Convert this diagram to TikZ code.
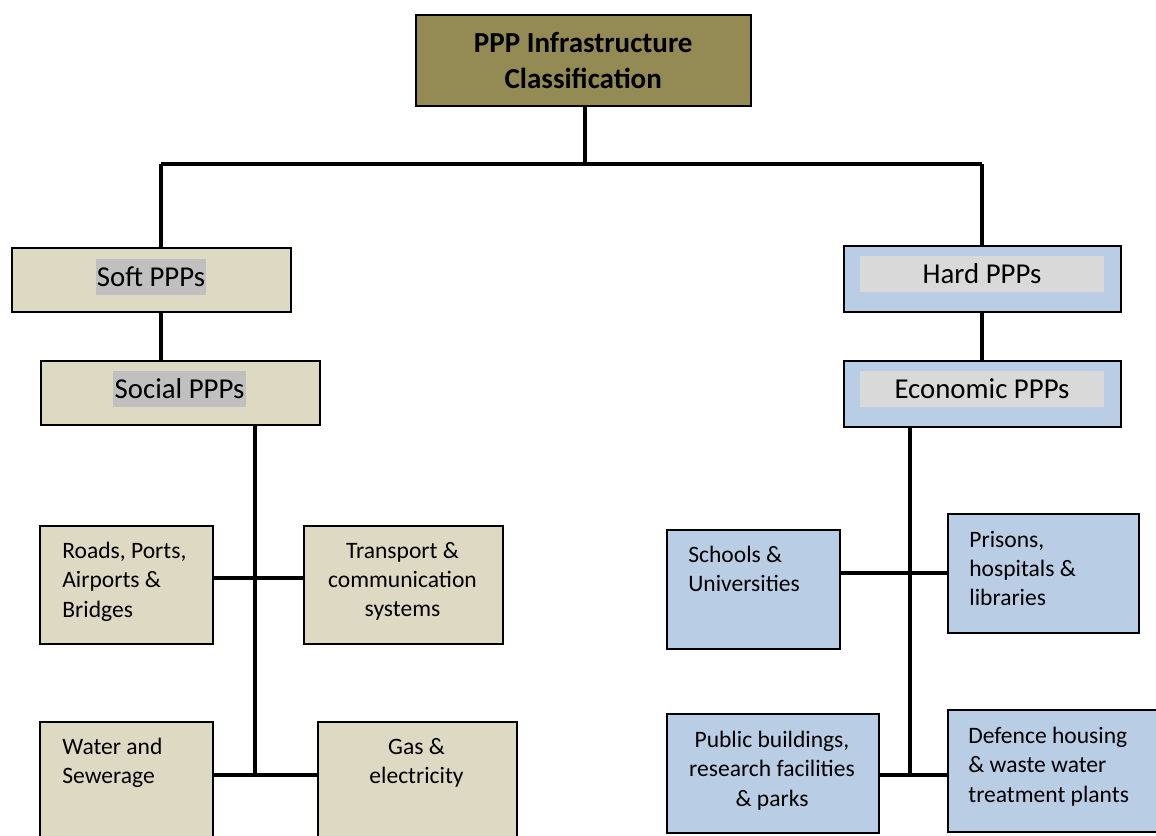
\documentclass[tikz,border=0pt]{standalone}
\usepackage{fontspec}
\setmainfont{Carlito}
\definecolor{olivebox}{HTML}{948A54}
\definecolor{tanbox}{HTML}{DDD9C3}
\definecolor{bluebox}{HTML}{B9CDE5}
\definecolor{hilite}{HTML}{C0C0C0}
\definecolor{innergray}{HTML}{D9D9D9}
\begin{document}
\begin{tikzpicture}[x=0.02cm, y=-0.02cm,
		box/.style = {draw, line width=0.9pt, anchor=north west, inner sep=0pt},
		softbox/.style = {box, fill=tanbox},
		hardbox/.style = {box, fill=bluebox},
		link/.style = {line width=1.8pt},
		smalltext/.style = {inner sep=0pt, font=\fontsize{13.4}{16.6}\selectfont},
		headtext/.style = {inner sep=0pt, minimum height=0.72cm, font=\fontsize{16.4}{19}\selectfont}]
		\useasboundingbox (0,0) rectangle (1156,835);
		\clip (0,0) rectangle (1156,835);
		\node[box, fill=olivebox, minimum width=6.7cm, minimum height=1.82cm, align=center, font=\bfseries\fontsize{16.5}{20.4}\selectfont] (top) at (415,14) {PPP Infrastructure\\Classification};
		\node[softbox, minimum width=5.58cm, minimum height=1.28cm] (soft) at (11,247) {};
		\node[softbox, minimum width=5.58cm, minimum height=1.28cm] (social) at (40,360) {};
		\node[headtext, fill=hilite, minimum width=2.2cm] (softtext) at (151,277) {Soft PPPs};
		\node[headtext, fill=hilite, minimum width=2.66cm] (socialtext) at (179.5,389) {Social PPPs};
		\node[hardbox, minimum width=5.54cm, minimum height=1.32cm] (hard) at (843,245) {};
		\node[hardbox, minimum width=5.54cm, minimum height=1.32cm] (economic) at (843,360) {};
		\node[headtext, fill=innergray, minimum width=4.88cm] (hardtext) at (982,274) {Hard PPPs};
		\node[headtext, fill=innergray, minimum width=4.88cm] (economictext) at (982,389) {Economic PPPs};
		\node[softbox, minimum width=3.46cm, minimum height=2.36cm] (roads) at (39,525) {};
		\node[softbox, minimum width=3.98cm, minimum height=2.36cm] (transport) at (303,525) {};
		\node[softbox, minimum width=3.46cm, minimum height=2.5cm] (water) at (39,721) {};
		\node[softbox, minimum width=3.98cm, minimum height=2.5cm] (gas) at (317,721) {};
		\node[hardbox, minimum width=3.46cm, minimum height=2.38cm] (schools) at (666,529) {};
		\node[hardbox, minimum width=3.82cm, minimum height=2.38cm] (prisons) at (947,513) {};
		\node[hardbox, minimum width=4.24cm, minimum height=2.38cm] (public) at (666,713) {};
		\node[hardbox, minimum width=4.6cm, minimum height=2.44cm] (defence) at (947,709) {};
		\node[smalltext, anchor=north west, align=left] (roadstext) at (62,542) {Roads, Ports,\\Airports \&\\Bridges};
		\node[smalltext, anchor=north, align=center] (transporttext) at (402.5,542) {Transport \&\\communication\\systems};
		\node[smalltext, anchor=north west, align=left] (watertext) at (62,738) {Water and\\Sewerage};
		\node[smalltext, anchor=north, align=center] (gastext) at (416.5,738) {Gas \&\\electricity};
		\node[smalltext, anchor=north west, align=left] (schoolstext) at (688,546) {Schools \&\\Universities};
		\node[smalltext, anchor=north west, align=left] (prisonstext) at (969,531) {Prisons,\\hospitals \&\\libraries};
		\node[smalltext, anchor=north, align=center] (publictext) at (772,731) {Public buildings,\\research facilities\\\& parks};
		\node[smalltext, anchor=north west, align=left] (defencetext) at (968,727) {Defence housing\\\& waste water\\treatment plants};
		\coordinate (busL) at (161,164);
		\coordinate (busM) at (585,164);
		\coordinate (busR) at (982,164);
		\coordinate (socialA) at (255,578);
		\coordinate (socialB) at (255,775);
		\coordinate (econA) at (910,573);
		\coordinate (econB) at (910,775);
		\draw[link] (top.south -| busM) -- (busM);
		\draw[link] (busL) -- (busR);
		\draw[link] (busL) -- (busL |- soft.north);
		\draw[link] (busR) -- (busR |- hard.north);
		\draw[link] (soft.south -| busL) -- (social.north -| busL);
		\draw[link] (hard.south -| busR) -- (economic.north -| busR);
		\draw[link] (social.south -| socialA) -- (socialB);
		\draw[link] (socialA -| roads.east) -- (socialA -| transport.west);
		\draw[link] (socialB -| water.east) -- (socialB -| gas.west);
		\draw[link] (economic.south -| econA) -- (econB);
		\draw[link] (econA -| schools.east) -- (econA -| prisons.west);
		\draw[link] (econB -| public.east) -- (econB -| defence.west);
	\end{tikzpicture}
\end{document}
